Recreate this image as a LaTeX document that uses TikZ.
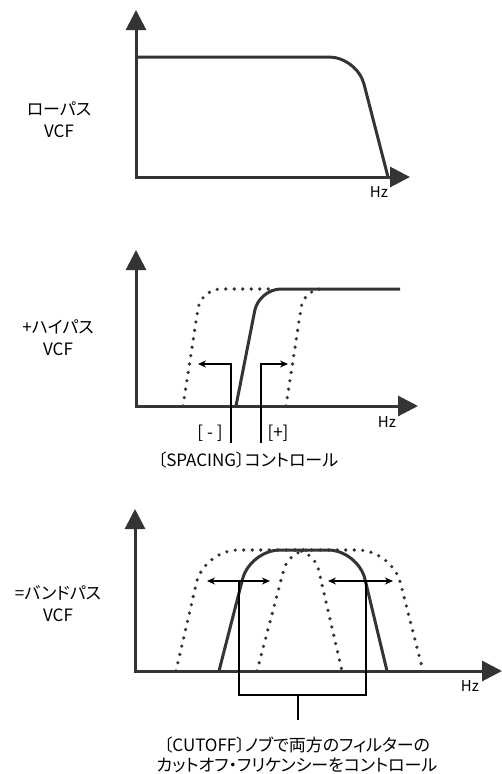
\documentclass[tikz,border=0pt]{standalone}
\usepackage{fontspec}
\setmainfont{Noto Sans CJK JP}[RawFeature=+palt]
\usetikzlibrary{arrows.meta}
\definecolor{ink}{RGB}{52,52,52}
\definecolor{thin}{RGB}{105,105,105}

\begin{document}
\begin{tikzpicture}[x=1pt,y=-1pt,
  axis/.style={ink,line width=3pt,{Triangle[length=20pt,width=20pt]}-{Triangle[length=20pt,width=20pt]}},
  curve/.style={ink,line width=3pt},
  ghost/.style={ink,line width=3.6pt,line cap=round,dash pattern=on 0pt off 8.5pt},
  guide/.style={thin,line width=1.2pt},
  tip/.style={-{Stealth[length=8pt,width=7pt]}},
  tag/.style={align=center,font=\fontsize{17}{22}\selectfont,inner sep=0pt},
  hz/.style={font=\fontsize{15}{16}\selectfont,inner sep=0pt}]
\useasboundingbox (0,0) rectangle (502,774);

\draw[axis] (136,10) -- (136,177) -- (410,177);
\draw[curve,rounded corners=28pt] (136,57) -- (357,57) -- (388,177);
\node[hz] (hz1) at (379,192) {Hz};
\node[tag] (lp) at (59,120) {ローパス\\VCF};

\draw[ghost,rounded corners=20pt] (183,406) -- (201,289) -- (275,289);
\draw[ghost,rounded corners=18pt] (286,406) -- (304,289) -- (322,289);
\draw[axis] (136,250) -- (136,406) -- (418,406);
\draw[curve,rounded corners=22pt] (236,406) -- (259,289) -- (400,289);
\node[hz] (hz2) at (387,422) {Hz};
\node[tag] (hp) at (58,338) {+ハイパス\\VCF};

\node[tag] (minus) at (210,433) {[ - ]};
\node[tag] (plus) at (278,433) {[+]};
\node[tag] (spc) at (248,460) {〔SPACING〕コントロール};
\draw[guide,tip] (231,443) -- (231,364) -- (198,364);
\draw[guide,tip] (261,443) -- (261,364) -- (288,364);

\draw[ghost,rounded corners=34pt] (176,671) -- (204,550) -- (392,550) -- (423,671);
\draw[ghost,rounded corners=20pt] (257,671) -- (289,550) -- (314,550) -- (342,671);
\draw[axis] (135,509) -- (135,671) -- (502,671);
\draw[curve,rounded corners=30pt] (219,671) -- (250,550) -- (358,550) -- (387,671);
\node[hz] (hz3) at (470,686) {Hz};
\node[tag] (bp) at (58,604) {=バンドパス\\VCF};

\draw[guide,{Stealth[length=8pt,width=7pt]}-{Stealth[length=8pt,width=7pt]}] (207,581) -- (270,581);
\draw[guide,{Stealth[length=8pt,width=7pt]}-{Stealth[length=8pt,width=7pt]}] (328,581) -- (393,581);
\draw[guide] (239,581) -- (239,695) -- (366,695) -- (366,581);
\coordinate (stem) at (298,695);
\node[tag,font=\fontsize{17}{20}\selectfont] (cut) at (297,755) {〔CUTOFF〕ノブで両方のフィルターの\\カットオフ・フリケンシーをコントロール};
\draw[guide] (stem) -- ++(0,25);
\end{tikzpicture}
\end{document}
